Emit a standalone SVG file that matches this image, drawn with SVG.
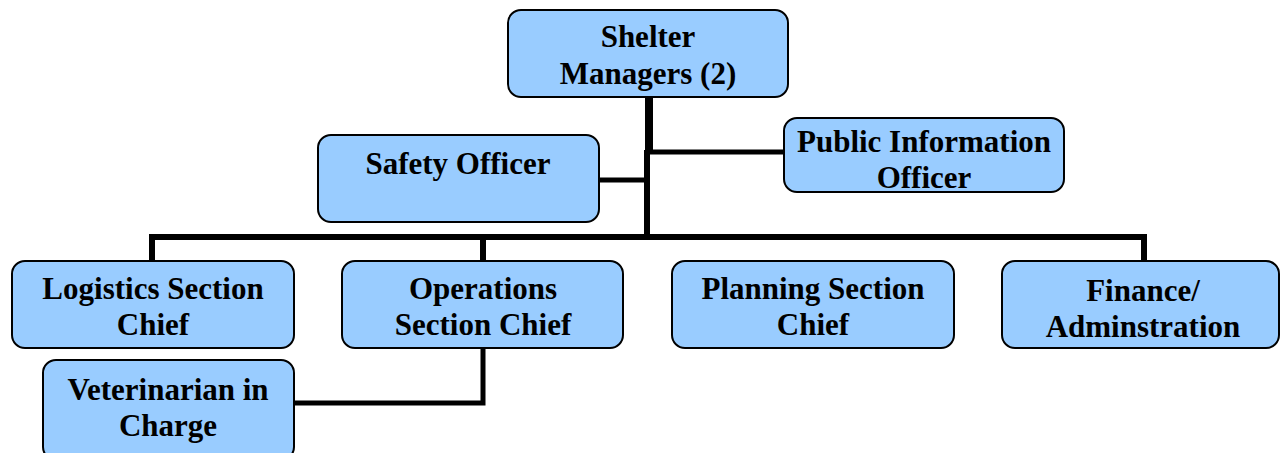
<svg xmlns="http://www.w3.org/2000/svg" width="1280" height="453" viewBox="0 0 1280 453">
<style>
.box{fill:#99ccff;stroke:#000;stroke-width:2}
.t{font-family:"Liberation Serif","Times New Roman",serif;font-weight:bold;font-size:31px;fill:#000;text-anchor:middle}
.c{fill:none;stroke:#000;stroke-linejoin:miter;stroke-linecap:butt}
</style>
<rect width="1280" height="453" fill="#fff"/>
<g id="connectors">
<path class="c" stroke-width="8" d="M649,97 V152"/>
<path class="c" stroke-width="6" d="M647,150 V240"/>
<path class="c" stroke-width="5" d="M650,152 H784"/>
<path class="c" stroke-width="5" d="M599,180 H647"/>
<path class="c" stroke-width="6" d="M152,261 V237 H1144 V261"/>
<path class="c" stroke-width="6" d="M483,237 V261"/>
<path class="c" stroke-width="5" d="M483,348 V403 H294"/>
</g>
<g id="shelter-managers">
<rect class="box" x="508" y="10" width="280" height="87" rx="13"/>
<text class="t" x="648" y="47">Shelter</text>
<text class="t" x="648" y="84">Managers (2)</text>
</g>
<g id="safety-officer">
<rect class="box" x="318" y="135" width="281" height="87" rx="13"/>
<text class="t" x="458" y="174">Safety Officer</text>
</g>
<g id="public-information-officer">
<rect class="box" x="784" y="118" width="280" height="74" rx="13"/>
<text class="t" x="924" y="152">Public Information</text>
<text class="t" x="924" y="188">Officer</text>
</g>
<g id="logistics">
<rect class="box" x="12" y="261" width="282" height="87" rx="13"/>
<text class="t" x="153" y="299">Logistics Section</text>
<text class="t" x="153" y="335">Chief</text>
</g>
<g id="operations">
<rect class="box" x="342" y="261" width="281" height="87" rx="13"/>
<text class="t" x="483" y="299">Operations</text>
<text class="t" x="483" y="335">Section Chief</text>
</g>
<g id="planning">
<rect class="box" x="672" y="261" width="282" height="87" rx="13"/>
<text class="t" x="813" y="299">Planning Section</text>
<text class="t" x="813" y="335">Chief</text>
</g>
<g id="finance">
<rect class="box" x="1002" y="261" width="277" height="87" rx="13"/>
<text class="t" x="1143" y="301">Finance/</text>
<text class="t" x="1143" y="337">Adminstration</text>
</g>
<g id="veterinarian">
<rect class="box" x="43" y="360" width="251" height="100" rx="13"/>
<text class="t" x="168" y="400">Veterinarian in</text>
<text class="t" x="168" y="436">Charge</text>
</g>
</svg>
